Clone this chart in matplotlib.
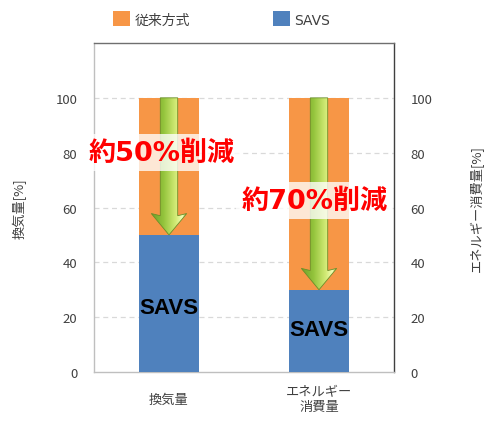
import matplotlib
matplotlib.use("Agg")
import matplotlib.pyplot as plt
import numpy as np
from matplotlib.patches import Polygon
from matplotlib.colors import LinearSegmentedColormap

plt.rcParams['font.family'] = ['Noto Sans CJK JP', 'DejaVu Sans']

categories = ['換気量', 'エネルギー\n消費量']
conventional = [100, 100]
savs = [50, 30]
series_names = ['従来方式', 'SAVS']
reduction_labels = ['約50%削減', '約70%削減']
label_y = [80, 62.5]
label_x = [-0.05, 0.97]
savs_text_y = [23.5, 15.5]
yticks = [0, 20, 40, 60, 80, 100]
left_ylabel = '換気量[%]'
right_ylabel = 'エネルギー消費量[%]'

ORANGE = '#F79646'
BLUE = '#4F81BD'

fig = plt.figure(figsize=(5, 4.39), dpi=100)
ax = fig.add_axes([0.188, 0.1503, 0.6, 0.7495])
x = np.arange(len(categories))
w = 0.395
ax.bar(x, conventional, width=w, color=ORANGE, label=series_names[0], zorder=2)
ax.bar(x, savs, width=w, color=BLUE, label=series_names[1], zorder=3)

ax.set_xlim(-0.5, 1.5)
ax.set_ylim(0, 120)
ax.set_yticks(yticks)
ax.set_xticks(x)
ax.set_xticklabels(categories, fontsize=9.5, color='#404040', linespacing=1.1,
                   va='center')
ax.tick_params(axis='x', length=0, pad=19.5)
ax.tick_params(axis='y', length=0, pad=12, labelsize=9.5, labelcolor='#404040')
for v in yticks[1:]:
    ax.axhline(v, color='#d9d9d9', lw=0.9, ls=(0, (4, 3)), zorder=1)
ax.spines['left'].set_color('#bfbfbf')
ax.spines['bottom'].set_color('#bfbfbf')
ax.spines['top'].set_color('#6f6f6f')
ax.spines['right'].set_color('#404040')
for s in ax.spines.values():
    s.set_linewidth(1.0)
ax.set_ylabel(left_ylabel, fontsize=9.5, color='#404040', labelpad=21)

ax2 = ax.twinx()
ax2.set_ylim(0, 120)
ax2.set_yticks(yticks)
ax2.tick_params(axis='y', length=0, pad=12, labelsize=9.5, labelcolor='#404040')
ax2.set_ylabel(right_ylabel, fontsize=9.5, color='#404040', labelpad=27)
for s in ax2.spines.values():
    s.set_visible(False)

# green gradient arrows
cmap = LinearSegmentedColormap.from_list('g', [
    (0.0, '#6e9e28'), (0.35, '#94c43c'), (0.7, '#d4ec78'),
    (0.88, '#f2ffb8'), (1.0, '#86b030')])
grad = np.linspace(0, 1, 256).reshape(1, -1)
shaft_hw = 0.058
head_hw = 0.118
head_len = 7
for i in range(len(categories)):
    cx = x[i]
    top = conventional[i]
    tip = savs[i]
    hb = tip + head_len
    verts = [(cx - shaft_hw, top), (cx + shaft_hw, top), (cx + shaft_hw, hb),
             (cx + head_hw, hb + 0.8), (cx, tip), (cx - head_hw, hb + 0.8),
             (cx - shaft_hw, hb)]
    poly = Polygon(verts, closed=True, facecolor='none', edgecolor='#6a8f2a',
                   lw=0.6, zorder=5)
    ax.add_patch(poly)
    im = ax.imshow(grad, cmap=cmap, aspect='auto',
                   extent=(cx - head_hw, cx + head_hw, tip, top), zorder=4)
    im.set_clip_path(poly)
ax.set_xlim(-0.5, 1.5)
ax.set_ylim(0, 120)

for i in range(len(categories)):
    ax.text(label_x[i], label_y[i], reduction_labels[i], color='#ff0000',
            fontsize=19.5, fontweight='bold', ha='center', va='center', zorder=7,
            clip_on=False, family=['DejaVu Sans', 'Noto Sans CJK JP'],
            bbox=dict(boxstyle='square,pad=0.2', facecolor='white',
                      edgecolor='none', alpha=0.78))
    ax.text(x[i], savs_text_y[i], 'SAVS', color='black', fontsize=16,
            fontweight='bold', family=['Liberation Sans', 'DejaVu Sans'],
            ha='center', va='center', zorder=6)

leg = ax.legend(loc='center left', ncol=2,
                frameon=False, handlelength=1.25, handleheight=1.25,
                prop={'family': ['DejaVu Sans', 'Noto Sans CJK JP'], 'size': 10},
                handletextpad=0.3, columnspacing=5.95, borderaxespad=0.0,
                borderpad=0.0)
leg.set_bbox_to_anchor((113 / 500, 1 - 20 / 439), transform=fig.transFigure)
for t in leg.get_texts():
    t.set_color('#404040')

fig.savefig('out.png', dpi=100)
